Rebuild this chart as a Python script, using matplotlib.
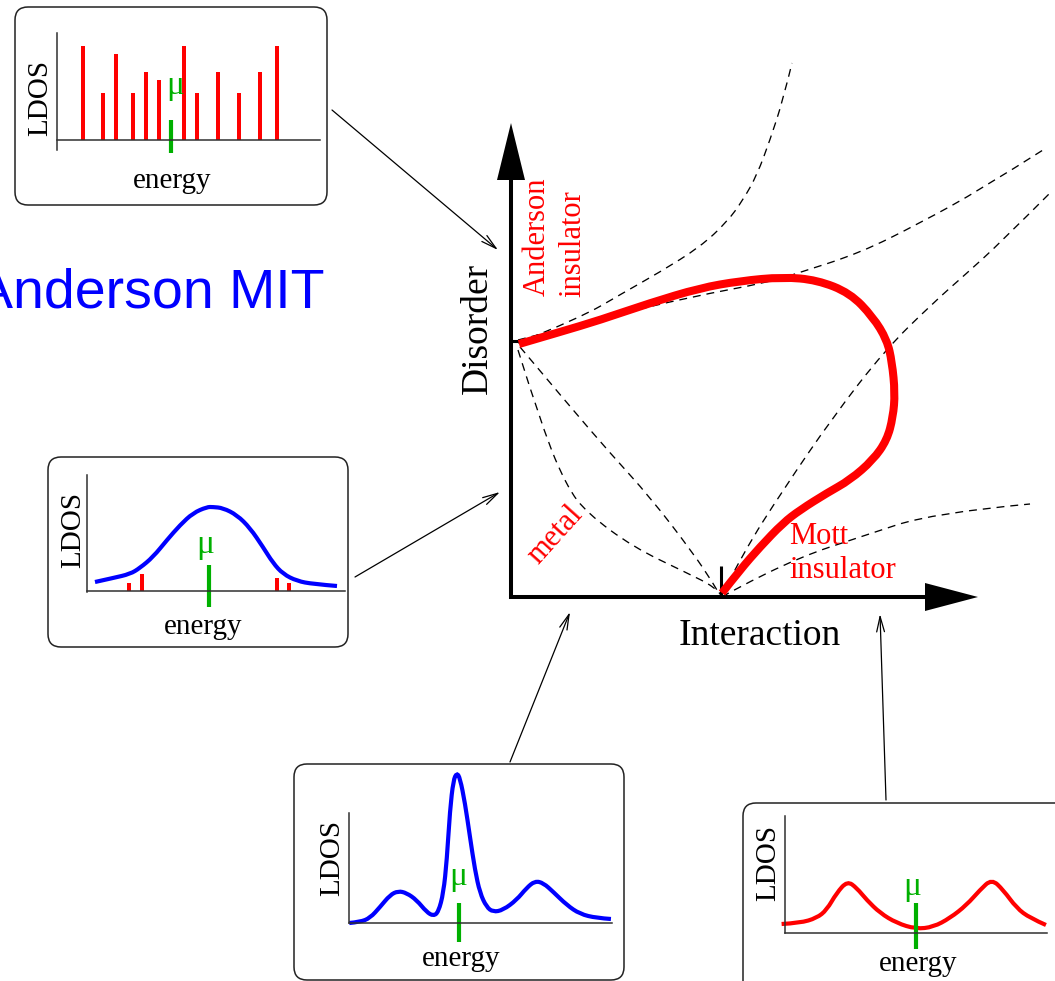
import matplotlib
matplotlib.use("Agg")
import matplotlib.pyplot as plt
from matplotlib.patches import FancyBboxPatch, PathPatch, Polygon
from matplotlib.path import Path

# ---- phase diagram, in (interaction U, disorder W) units ----
U_c = 2.10   # Mott transition at zero disorder
W_c = 2.56   # Anderson transition at zero interaction
U_max, W_max = 4.67, 4.74   # arrow tips of the two axes

boundary_U = [0.08, 0.49, 0.89, 1.39, 1.89, 2.29, 2.72, 3.06, 3.39, 3.62, 3.76, 3.81,
              3.84, 3.82, 3.76, 3.62, 3.39, 3.16, 2.89, 2.72, 2.49, 2.29, 2.11]
boundary_W = [2.53, 2.65, 2.77, 2.94, 3.09, 3.16, 3.20, 3.17, 3.04, 2.80, 2.57, 2.35,
              2.04, 1.80, 1.57, 1.37, 1.17, 1.04, 0.87, 0.74, 0.50, 0.27, 0.04]

# crossover lines leaving the two critical points
crossovers = [
    ([0.07, 0.69, 1.12, 1.49, 1.89, 2.16, 2.32, 2.46, 2.59, 2.72, 2.81],
     [2.54, 2.79, 3.04, 3.25, 3.50, 3.75, 3.97, 4.22, 4.57, 4.97, 5.34]),
    ([0.07, 0.96, 1.79, 2.59, 2.87, 3.49, 4.09, 4.69, 5.32],
     [2.57, 2.80, 3.00, 3.15, 3.24, 3.44, 3.74, 4.07, 4.47]),
    ([2.11, 2.32, 2.72, 3.22, 3.74, 4.22, 4.56, 4.89, 5.39],
     [0.02, 0.44, 1.07, 1.80, 2.47, 2.94, 3.24, 3.54, 4.04]),
    ([2.11, 2.22, 2.89, 3.49, 4.22, 5.19],
     [0.00, 0.07, 0.40, 0.60, 0.84, 0.93]),
    ([0.07, 0.32, 0.56, 0.76, 1.22, 1.76, 2.04, 2.10],
     [2.47, 1.67, 1.10, 0.84, 0.50, 0.24, 0.10, 0.02]),
    ([0.09, 0.56, 0.99, 1.39, 1.82, 2.02, 2.09],
     [2.50, 1.94, 1.44, 1.00, 0.44, 0.14, 0.02]),
]

# ---- local density of states sketches (energy axis 0..10) ----
# Anderson insulator: discrete levels
ins_E = [0.99, 1.75, 2.24, 2.89, 3.38, 3.88, 4.83, 5.32, 6.12, 6.92, 7.72, 8.37]
ins_ldos = [0.94, 0.47, 0.86, 0.47, 0.68, 0.60, 0.94, 0.47, 0.68, 0.47, 0.68, 0.94]
ins_mu = 4.33

# disordered metal: broad band with a few localized states in the tails
met_E = [0.31, 1.01, 1.67, 2.05, 2.56, 3.10, 3.61, 4.11, 4.65, 4.88, 5.27, 5.81, 6.32,
         6.82, 7.21, 7.60, 8.14, 8.76, 9.69]
met_ldos = [0.09, 0.13, 0.17, 0.23, 0.34, 0.51, 0.66, 0.78, 0.84, 0.84, 0.83, 0.76, 0.63,
            0.44, 0.28, 0.17, 0.10, 0.07, 0.05]
met_loc_E = [1.63, 2.13, 7.36, 7.83]
met_loc_ldos = [0.08, 0.17, 0.13, 0.08]
met_mu = 4.73

# correlated metal: quasiparticle peak plus Hubbard bands
qp_E = [0.01, 0.42, 0.80, 1.18, 1.56, 1.87, 2.19, 2.57, 2.95, 3.21, 3.40, 3.59, 3.72, 3.84,
        3.97, 4.10, 4.22, 4.41, 4.60, 4.79, 4.98, 5.23, 5.48, 5.86, 6.37, 6.75, 7.07, 7.39,
        7.77, 8.28, 8.78, 9.41, 9.96]
qp_ldos = [0.00, 0.01, 0.05, 0.16, 0.28, 0.32, 0.30, 0.23, 0.11, 0.07, 0.11, 0.30, 0.63, 1.13,
           1.43, 1.50, 1.45, 1.20, 0.86, 0.53, 0.30, 0.16, 0.11, 0.13, 0.23, 0.35, 0.42, 0.40,
           0.31, 0.18, 0.09, 0.05, 0.04]
qp_mu = 4.18

# Mott insulator: gap at the chemical potential
mott_E = [-0.13, 0.57, 1.21, 1.59, 1.97, 2.38, 2.74, 3.12, 3.63, 4.26, 5.00, 5.66, 6.30,
          6.93, 7.44, 7.89, 8.33, 8.84, 9.35, 9.96]
mott_ldos = [0.09, 0.10, 0.15, 0.23, 0.40, 0.52, 0.45, 0.33, 0.20, 0.10, 0.04, 0.06, 0.15,
             0.28, 0.43, 0.54, 0.43, 0.25, 0.15, 0.08]
mott_mu = 5.00

RED = "#ff0000"
BLUE = "#0000ff"
GREEN = "#00b000"
SERIF = "Liberation Serif"
W_PX, H_PX = 1055, 981


def spline(a, xs, ys, **kw):
    """Quadratic B-spline through the given control points, drawn as a PathPatch."""
    pts = list(zip(xs, ys))
    verts, codes = [pts[0]], [Path.MOVETO]
    for i in range(1, len(pts) - 1):
        if i == len(pts) - 2:
            end = pts[-1]
        else:
            end = ((pts[i][0] + pts[i + 1][0]) / 2, (pts[i][1] + pts[i + 1][1]) / 2)
        verts += [pts[i], end]
        codes += [Path.CURVE3, Path.CURVE3]
    p = PathPatch(Path(verts, codes), fill=False, **kw)
    a.add_patch(p)
    return p


fig = plt.figure(figsize=(W_PX / 100, H_PX / 100), dpi=100)
ax = fig.add_axes([0, 0, 1, 1])
ax.set_xlim(-5.11, 5.44)
ax.set_ylim(-3.84, 5.97)
ax.axis("off")

# axes of the phase diagram
ax.plot([0, 0, U_max - 0.5], [W_max - 0.5, 0, 0], color="black", lw=2.9,
        solid_joinstyle="miter", solid_capstyle="butt")
ax.add_patch(Polygon([(0, W_max), (-0.14, W_max - 0.57), (0.14, W_max - 0.57)],
                     closed=True, fc="black", ec="none"))
ax.add_patch(Polygon([(U_max, 0), (U_max - 0.53, 0.14), (U_max - 0.53, -0.14)],
                     closed=True, fc="black", ec="none"))
ax.plot([0, 0.11], [W_c, W_c], color="black", lw=2.2, solid_capstyle="butt")
ax.plot([U_c, U_c], [0, 0.31], color="black", lw=2.2, solid_capstyle="butt")

for cu, cw in crossovers:
    spline(ax, cu, cw, ec="black", lw=0.95, linestyle=(0, (6, 4.5)), zorder=2)

spline(ax, boundary_U, boundary_W, ec=RED, lw=5.8, joinstyle="round",
       capstyle="butt", zorder=3)

ax.text(-0.33, 2.69, "Disorder", rotation=90, ha="center", va="center",
        fontsize=27, family=SERIF)
ax.text(2.49, -0.39, "Interaction", ha="center", va="center", fontsize=27, family=SERIF)
ax.text(0.34, 3.01, "Anderson", rotation=90, rotation_mode="anchor", ha="left",
        va="baseline", fontsize=22, family=SERIF, color=RED)
ax.text(0.69, 3.00, "insulator", rotation=90, rotation_mode="anchor", ha="left",
        va="baseline", fontsize=22, family=SERIF, color=RED)
ax.text(0.44, 0.62, "metal", rotation=48, ha="center", va="center",
        fontsize=22, family=SERIF, color=RED)
ax.text(2.78, 0.53, "Mott", ha="left", va="baseline", fontsize=22, family=SERIF, color=RED)
ax.text(2.78, 0.19, "insulator", ha="left", va="baseline", fontsize=22, family=SERIF,
        color=RED)
ax.text(-1.86, 2.90, "Anderson MIT", ha="right", va="baseline", fontsize=40,
        family="Liberation Sans", color=BLUE)

# frames around the LDOS sketches
for x0, y0, w, h in [(-4.96, 3.92, 3.12, 1.98), (-4.63, -0.50, 3.00, 1.90),
                     (-2.17, -3.83, 3.30, 2.16), (2.32, -4.10, 3.30, 2.04)]:
    ax.add_patch(FancyBboxPatch((x0, y0), w, h, boxstyle="round,pad=0,rounding_size=0.13",
                                fc="white", ec="#222222", lw=1.1, zorder=1))

# pointers from each sketch to its region
for start, end in [((-1.79, 4.87), (-0.13, 3.47)), ((-1.56, 0.20), (-0.11, 1.05)),
                   ((-0.01, -1.65), (0.59, -0.15)), ((3.75, -2.03), (3.69, -0.17))]:
    ax.annotate("", xy=end, xytext=start,
                arrowprops=dict(arrowstyle="->,head_length=1.1,head_width=0.28",
                                lw=0.9, color="black", shrinkA=0, shrinkB=0))


def ldos_panel(left, right, top, bottom, ylim):
    a = fig.add_axes([left / W_PX, 1 - bottom / H_PX, (right - left) / W_PX,
                      (bottom - top) / H_PX])
    a.set_xlim(0, 10)
    a.set_ylim(*ylim)
    a.patch.set_alpha(0)
    a.spines["top"].set_visible(False)
    a.spines["right"].set_visible(False)
    a.spines["bottom"].set_position(("data", 0))
    for s in ("left", "bottom"):
        a.spines[s].set_color("#303030")
        a.spines[s].set_linewidth(1.1)
    a.set_xticks([])
    a.set_yticks([])
    return a


def labels(a, mu, mu_lo, mu_hi, mu_txt, ldos_xy, energy_xy):
    a.plot([mu, mu], [mu_lo, mu_hi], color=GREEN, lw=3, solid_capstyle="butt",
           clip_on=False)
    a.text(mu_txt[0], mu_txt[1], "μ", color=GREEN, ha="center", va="baseline",
           fontsize=24, family=SERIF)
    a.text(ldos_xy[0], ldos_xy[1], "LDOS", rotation=90, ha="center", va="center",
           fontsize=21, family=SERIF)
    a.text(energy_xy[0], energy_xy[1], "energy", ha="center", va="center",
           fontsize=21, family=SERIF)


a1 = ldos_panel(57, 320, 33, 150, (-0.10, 1.07))
a1.bar(ins_E, ins_ldos, width=0.16, color=RED, zorder=1)
labels(a1, ins_mu, -0.13, 0.20, (4.49, 0.46), (-0.65, 0.42), (4.37, -0.41))

a2 = ldos_panel(87, 345, 475, 592, (-0.01, 1.16))
spline(a2, met_E, met_ldos, ec=BLUE, lw=3, capstyle="butt", clip_on=False)
a2.bar(met_loc_E, met_loc_ldos, width=0.17, color=RED)
labels(a2, met_mu, -0.16, 0.26, (4.57, 0.38), (-0.54, 0.61), (4.50, -0.36))

a3 = ldos_panel(349, 612, 813, 923, (0, 1.10))
spline(a3, qp_E, qp_ldos, ec=BLUE, lw=3, capstyle="butt", clip_on=False)
labels(a3, qp_mu, -0.19, 0.20, (4.14, 0.38), (-0.65, 0.65), (4.26, -0.36))

a4 = ldos_panel(785, 1047, 816, 933, (0, 1.17))
spline(a4, mott_E, mott_ldos, ec=RED, lw=3, capstyle="butt", clip_on=False)
labels(a4, mott_mu, -0.16, 0.30, (4.85, 0.38), (-0.65, 0.70), (5.08, -0.31))

fig.savefig("out.png", dpi=100)
